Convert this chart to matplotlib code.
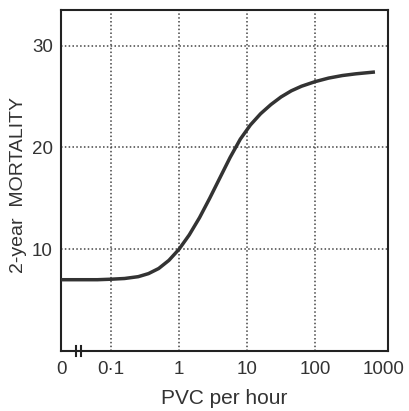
import numpy as np
import matplotlib.pyplot as plt

plt.rcParams['font.family'] = ['Liberation Sans', 'DejaVu Sans']

# curve read as (PVC per hour, 2-year mortality %)
pvc = [0.0184, 0.04, 0.063, 0.1, 0.158, 0.251, 0.355, 0.501, 0.708, 1.0,
       1.41, 2.0, 2.82, 3.98, 5.62, 7.94, 11.2, 15.8, 22.4, 31.6, 44.7,
       63.1, 100, 158, 251, 398, 759]
mortality = [7.0, 7.0, 7.0, 7.05, 7.12, 7.3, 7.6, 8.1, 8.9, 10.0,
             11.4, 13.1, 15.0, 17.0, 19.0, 20.8, 22.2, 23.3, 24.2, 24.95, 25.55,
             26.0, 26.45, 26.8, 27.05, 27.22, 27.4]

x_ticks = [0.0184, 0.1, 1, 10, 100, 1000]
x_ticklabels = ['0', '0·1', '1', '10', '100', '1000']
y_ticks = [10, 20, 30]

fig = plt.figure(figsize=(4.1, 4.11), dpi=100)
ax = fig.add_axes([0.149, 0.146, 0.797, 0.83])

ax.plot(pvc, mortality, color='#333333', linewidth=2.5, solid_capstyle='butt', zorder=3)

ax.set_xscale('log')
ax.set_xlim(0.0184, 1175)
ax.set_ylim(0, 33.5)

ax.set_xticks(x_ticks)
ax.set_xticklabels(x_ticklabels)
ax.xaxis.set_minor_locator(plt.NullLocator())
ax.set_yticks(y_ticks)
ax.tick_params(length=0, labelsize=13.5, colors='#333333')
ax.tick_params(axis='x', pad=7)
ax.tick_params(axis='y', pad=6)

# dotted grid, no line at the axis start or at 1000
for gx in [0.1, 1, 10, 100]:
    ax.axvline(gx, color='#444444', linestyle=(0, (1, 1.5)), linewidth=1.1, zorder=1)
for gy in y_ticks:
    ax.axhline(gy, color='#444444', linestyle=(0, (1, 1.5)), linewidth=1.1, zorder=1)

for s in ax.spines.values():
    s.set_linewidth(1.5)
    s.set_color('#222222')

# axis break between 0 and 0.1
for bx in [0.045, 0.06]:
    ax.plot([bx, bx], [-0.014, 0.014], transform=ax.transAxes, color='#222222',
            linewidth=1.5, clip_on=False, zorder=4)

ax.set_xlabel('PVC per hour', fontsize=15, color='#333333', labelpad=8)
fig.text(0.045, 0.55, '2-year  MORTALITY', rotation=90, fontsize=14,
         color='#333333', ha='center', va='center')

fig.savefig('out.png', dpi=100)
